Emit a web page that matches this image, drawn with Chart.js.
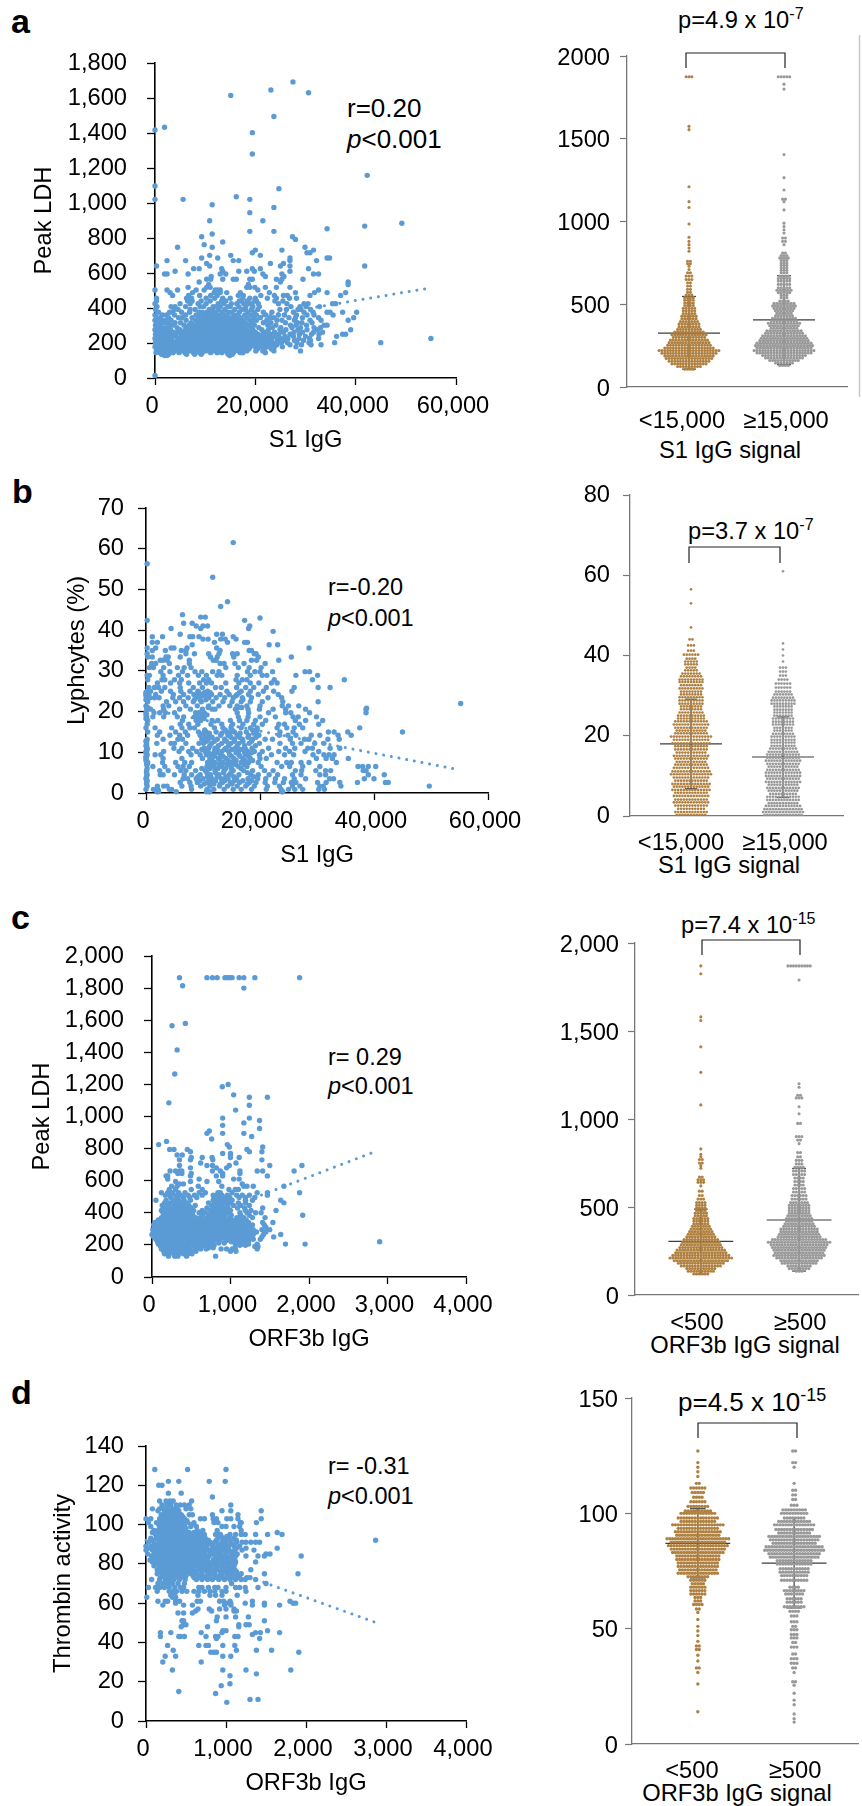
<!DOCTYPE html>
<html>
<head>
<title>Antibody signal vs clinical markers</title>
<script src="https://cdnjs.cloudflare.com/ajax/libs/Chart.js/4.4.1/chart.umd.min.js"></script>
<style>
    html, body { margin: 0; padding: 0; background: #fff; }
    body { position: relative; width: 862px; height: 1806px; overflow: hidden; }
    canvas { position: absolute; }
    svg { position: absolute; left: 0; top: 0; pointer-events: none; }
    svg text { font-family: "Liberation Sans", Arial, sans-serif; fill: #000; }
</style>
</head>
<body>
<svg width="862" height="1806" id="notes">
    <text x="11" y="33" font-size="34" font-weight="bold">a</text>
    <text x="12" y="503" font-size="34" font-weight="bold">b</text>
    <text x="11" y="929" font-size="34" font-weight="bold">c</text>
    <text x="11" y="1404" font-size="34" font-weight="bold">d</text>

    <text x="347" y="117" font-size="26">r=0.20</text>
    <text x="347" y="148" font-size="26"><tspan font-style="italic">p</tspan>&lt;0.001</text>
    <text x="328" y="595" font-size="23.5">r=-0.20</text>
    <text x="328" y="626" font-size="23.5"><tspan font-style="italic">p</tspan>&lt;0.001</text>
    <text x="328" y="1065" font-size="23.5">r= 0.29</text>
    <text x="328" y="1094" font-size="23.5"><tspan font-style="italic">p</tspan>&lt;0.001</text>
    <text x="328" y="1474" font-size="23.5">r= -0.31</text>
    <text x="328" y="1504" font-size="23.5"><tspan font-style="italic">p</tspan>&lt;0.001</text>

    <text x="678" y="28" font-size="23.7">p=4.9 x 10<tspan dy="-9" font-size="16">-7</tspan></text>
    <text x="688" y="539" font-size="23.7">p=3.7 x 10<tspan dy="-9" font-size="16">-7</tspan></text>
    <text x="681" y="933" font-size="23.7">p=7.4 x 10<tspan dy="-9" font-size="16">-15</tspan></text>
    <text x="678" y="1411" font-size="26">p=4.5 x 10<tspan dy="-10" font-size="18">-15</tspan></text>

    <text x="730" y="458" font-size="23.7" text-anchor="middle">S1 IgG signal</text>
    <text x="729" y="873" font-size="23.7" text-anchor="middle">S1 IgG signal</text>
    <text x="745" y="1353" font-size="23.7" text-anchor="middle">ORF3b IgG signal</text>
    <text x="737" y="1801" font-size="23.7" text-anchor="middle">ORF3b IgG signal</text>

    <g fill="none" stroke="#222" stroke-width="1.2">
        <path d="M686 68V53H785V68"/>
        <path d="M689 563V547H780V563"/>
        <path d="M702 955V940H800V955"/>
        <path d="M698 1438V1423H797V1438"/>
    </g>
    <path d="M859.5 35V397" stroke="#c8c8c8" stroke-width="1.5"/>
</svg>

<script>
// scatter values, one row per y level: [y, [x, x, ...]]
const s1LdhRows = [
    [1692,[27500]],[1646,[23100]],[1630,[30600]],[1615,[15100]],[1494,[23700]],[1433,[1900]],[1417,[0]],[1402,[19400]],
    [1280,[19400]],[1158,[42300]],[1097,[0]],[1082,[24700]],[1036,[16200]],[1021,[0,5600,18900]],[990,[11400]],[975,[23700]],
    [945,[18900]],[899,[10900,21500]],[884,[49200]],[868,[41800]],[853,[34300]],[838,[18900,23700]],[823,[11400]],
    [807,[9300,27400]],[792,[28000]],[777,[13500]],[762,[9800]],[747,[4500,11400,29900]],[731,[20000,25300,31600]],
    [716,[19400,30900,30300]],[701,[10900,15100,21000]],[686,[9300,12500,26900,34300,34800]],[671,[2400,6100,15600,16700,26900,32200]],
    [655,[10300,23000,25600]],[640,[300,10900,26900,41800,25000]],[625,[7700,8800,19400,21000,30600,13300]],
    [610,[4000,13500,16700,18300,19800,26900]],[594,[1900,2400,6600,13000,14100,21500,25300,31600,32600]],
    [580,[22000,11200,25700]],[564,[10300,13500,15600,16200,18900,19400,24200,25300,29500,11100]],[549,[8800,38500,25000]],
    [534,[38500,10700,18600]],[518,[6600,10300,18300,18900,19900,22000,24200,26900,11000]],
    [503,[0,2400,4500,8200,9800,12000,12500,20500,32600,13000]],
    [488,[3000,7500,11800,13000,14300,17000,22800,28000,34300,38000,31800]],
    [472,[3500,6700,8900,11100,12400,16600,17600,21100,23800,25600,26400,30900,37000]],
    [456,[300,6300,7300,10200,11900,13500,15000,17500,18900,20000,22400,24200,26800,28200]],
    [440,[300,6500,7400,9200,11000,13300,14100,16800,17200,18400,19900,20200,23900,25500]],
    [425,[0,5000,7000,8600,10200,12600,13700,15200,16300,17700,18700,19300,20600,24600,26300,29700,30500,36000,35400]],
    [408,[400,3200,4000,6100,9000,9700,11600,12200,13000,14500,15000,16700,18100,19500,20800,27100,28900,30100,32800]],
    [392,[100,3800,4600,7000,8000,10800,11500,12700,13900,15900,17300,18000,19200,20500,24900,26200,28500,29100,31000]],
    [376,[700,2900,3500,5300,6900,8800,9400,10300,11200,12100,13400,14600,15300,16800,18500,19800,21600,23300,27600,29700,31500,34300,34900,37400,40200]],
    [360,[0,1500,2300,3900,6100,8200,9100,10100,11000,11900,12800,13900,14400,15800,16500,17900,19100,20200,22100,24600,25800,28200,30300,31700,35500]],
    [345,[300,1000,2700,4700,5400,7400,8700,9800,10600,11400,12300,13200,14200,15200,16000,17100,18300,19600,21000,22900,23700,26700,28000,29400,32600,39600]],
    [330,[0,1200,2000,3200,6200,8100,9000,9600,10400,11100,11900,12700,13500,14300,15100,15800,16700,17500,18900,20200,22300,24300,25300,27800,30900,33100,38500]],
    [316,[500,1700,2500,4000,5100,7200,8500,9300,10000,10800,11600,12400,13100,13900,14700,15500,16300,17100,18000,19400,21600,23100,26000,28400,29300,31300]],
    [302,[100,900,2900,3600,5800,6800,7700,8900,9700,10400,11200,11900,12700,13500,14200,15000,15700,16600,17400,18600,19800,22500,24100,27000,28100,30200,33700,34300]],
    [288,[300,1400,2100,4400,6300,7300,8300,9200,10000,10700,11500,12300,13000,13800,14500,15300,16100,16900,17800,19100,20700,23400,25100,27300,29000,31700,33000]],
    [276,[0,800,2600,3100,5000,6100,6900,8000,8900,9600,10300,11100,11800,12600,13300,14100,14900,15600,16400,17200,18200,19500,21300,22600,24900,26100,28500,30300,32400,39000]],
    [262,[400,1300,1900,3700,4500,5500,7500,8600,9300,10100,10900,11600,12400,13200,13900,14700,15400,16200,17000,17800,18800,20000,22100,23800,25600,27700,29400,31600,33400]],
    [250,[100,1000,2300,3000,5200,6400,7200,8100,8900,9700,10500,11300,12000,12800,13500,14300,15100,15900,16600,17400,18400,19300,20500,21500,23000,24700,26900,28800,31200,32700,37400,38000]],
    [238,[600,1500,2700,3500,4200,5800,6700,7700,8500,9400,10100,10900,11700,12500,13200,14000,14800,15500,16300,17100,18000,18900,19900,21000,22400,24000,25900,27600,30000,36200]],
    [226,[0,1100,2000,3100,4800,5300,6300,7300,8200,9000,9800,10600,11400,12100,12900,13700,14400,15200,16000,16800,17700,18500,19500,20400,21700,23300,25000,26500,28700,30800,32600,55000]],
    [214,[400,1600,2400,3400,4400,5600,6900,7900,8700,9500,10300,11000,11800,12600,13400,14100,14900,15700,16500,17300,18200,19100,20000,21200,22600,24400,25700,27800,29600,31000]],
    [202,[100,800,1800,2900,3800,5000,6000,7500,8400,9200,9900,10700,11500,12200,13000,13800,14600,15400,16100,17000,17900,18700,19700,20700,22100,23500,25200,26400,28300,30700,35800,45000]],
    [190,[500,1300,2200,3300,4300,5500,6500,7100,8000,8800,9600,10400,11200,11900,12700,13500,14300,15000,15800,16700,17500,18400,19300,20300,21600,23000,24300,26900,29200,31100,33100]],
    [178,[0,900,1700,2700,3700,4600,5900,6800,7700,8500,9300,10100,10800,11600,12400,13100,13900,14700,15500,16400,17200,18100,19000,20000,21100,22400,23800,25400,28100]],
    [166,[300,1200,2000,3000,4000,5000,5700,6500,7400,8200,9000,9700,10500,11300,12100,12900,13700,14400,15200,16000,16900,17800,18700,20400,21800,23200]],
    [155,[700,1500,2400,3300,4300,5300,6200,7100,8700,9500,10200,11000,11800,12600,13400,14200,15000,15800,16600,17400,18300,20100,21500,23700,29000]],
    [145,[200,1100,1800,2600,3600,4800,6000,7700,8900,9400,11100,12400,13300,14400,15100,15600,17000,17500,22000]],
    [136,[1300,1700,2200,2700,6300,7900,9200,14600,15000,15400]],
    [128,[1900,2400,14900]],
    [15,[0]]
];
const s1LymphRows = [
    [61.5,[15300]],[56.3,[200]],[53,[11700]],[47,[14300]],[45.8,[13100]],[43.8,[6400]],[43.2,[9600,10400]],[43,[20000]],
    [42.4,[200,17300]],[41.7,[6600,8100]],[41,[8800,10000,10800,18200]],[40.4,[4400,9600,18000]],[39.7,[22300]],
    [39,[6000,12400,13400]],[38.4,[1100,2900,7700,8200,9300,15300]],[37.8,[10000,10900,13100,13900,15800]],
    [37,[1100,2000,12000,14300,17300,17800]],[36.4,[8100,21600,23100]],[35.6,[200,1700,4400,4900,7200,12400,28600]],
    [35,[1100,3400,6200,7000,13000,18100,18500]],[34.2,[200,7000,8500,11000,12800,15200,16000,19000,19300]],
    [33.4,[300,1100,3500,3900,6000,11300,12500,15400,19700,25500]],[32.6,[2500,3000,3700,7600,11800,12300,18500,19400,23300]],
    [31.8,[1000,1700,4100,7600,13000,13700,15600,17200,20900]],[30.8,[600,1300,3100,5500,6700,7900,14000,16200,18100,20200]],
    [29.8,[2600,4200,6400,8600,9800,11700,12800,17800,19100,20000,22200,27900,28700]],
    [28.9,[200,600,3000,5700,7300,9200,10600,12500,13300,16000,18300,20400,21200,26300,30100]],
    [27.8,[300,2800,3300,5000,6200,10100,11000,15800,16900,17700,22500,29200,34800]],
    [27,[2000,4300,5900,7500,9400,10600,11500,14000,16300,18300,19800,22000,23000]],
    [25.9,[500,1500,2200,3300,6000,8300,9900,12200,13200,15900,17500,18900,21100,26000,30200,32300]],
    [25,[200,800,2700,4300,6100,7700,9100,10800,14200,16700,18300,20600,22400,25600]],
    [24.2,[0,500,1700,4800,6600,8400,10000,11500,13000,14600,16000,18000,19700,23200]],
    [23.4,[100,700,1500,2300,4700,5900,7400,9400,11000,12300,13800,15300,16900,18500,21400,23800]],
    [22.4,[300,3600,5200,6600,8300,9700,11700,13500,15100,16700,18300,20400,24000,30200]],
    [21.4,[0,3000,4000,7000,9000,11000,12800,14700,16000,17700,20000,23900,25000,26800]],
    [20.6,[200,800,3100,5900,7800,9900,11600,12100,15700,17900,19900,22300,24500,28000,38600]],
    [19.7,[0,1400,2400,3400,5000,8700,9300,10200,16000,18000,21500,24500,25400,28700,38600]],
    [18.7,[100,1200,3100,5500,6600,8500,10000,16200,17900,20000,22700,25800,26700,29900]],
    [17.8,[300,6400,8800,9600,11600,12600,14800,16400,17700,19200,21000,26200,28000,31000]],
    [16.9,[200,6000,7500,9100,11400,13300,15200,17000,18900,20400,23300,24300,26900,30300]],
    [16,[0,1600,4500,6300,7700,8500,12000,13500,14900,16700,18300,19500,23000,24700,26000,27500,37500]],
    [15,[300,2400,5200,6900,9200,10500,12300,14200,15500,17600,19300,23500,25800,32000,33000,35400,45000]],
    [14.2,[2000,4200,5900,7300,9500,11100,13100,14400,16000,18000,19800,23400,24900,26300,29000,30500,33700,36000]],
    [13.2,[200,3000,5600,6400,9800,10900,12500,13800,15500,16900,18700,20900,22200,25300,27800,28600,31900,33900]],
    [12.2,[100,1900,4400,5000,7000,9300,10100,11500,13300,14900,16300,18100,19900,23500,25700,27200,29600,31200]],
    [11,[200,4900,6300,8200,10200,11000,12100,14000,15700,17300,18600,21500,24500,26100,28400,29200,32300,34000]],
    [10.2,[0,3100,5800,7500,8900,10400,12000,13300,14500,16200,17800,19000,20400,23300,25200,27900,30300]],
    [9.4,[200,1600,2600,7900,9500,10600,11500,13100,14700,16300,17500,19900,22000,24300,25900,29300,31200,32100,33000]],
    [8.5,[0,3000,6300,9900,11200,12700,14000,15400,17000,18300,20000,21100,29900,31600,32700,35500]],
    [7.5,[300,2900,5200,6800,8000,10800,12100,13500,15000,16700,18000,19700,23000,24700,25500,27200,28600,33400]],
    [6.5,[1200,3300,5600,6500,7600,10700,11900,13300,14900,16200,17700,20200,23800,25200,27500,30500,37200,38000,39000,40300]],
    [5.5,[100,2400,3900,6100,7000,8700,10400,12100,13700,15300,17100,18700,20800,22300,26200,27300,29800,31500,32400,38100,38600]],
    [4.5,[200,2500,3000,5000,6700,8000,9500,11300,12800,14600,16300,18400,19700,21600,23100,25700,27200,30500,31500,39000,41800]],
    [3.5,[0,6500,7300,8800,10000,11600,13200,14400,15900,17900,19600,21000,22700,24300,26000,28000,32200,32900,38300,40000]],
    [2.6,[100,6000,7700,9000,10700,11500,13400,14800,16400,18100,19300,20900,22600,24100,25500,26300,30100,31600,34000,37100,42000,42500]],
    [1.7,[200,2000,3100,3700,6300,7900,9600,11200,12900,14300,16000,17500,19000,21300,23400,25700,27000,30500,31100,34200,49700]],
    [0.9,[0,1300,2100,4100,4500,8000,10700,11900,13700,15300,16700,18500,21100,23700,25000,26100,27500,30300,31300]],
    [0.3,[1900,2200,5300,10600,11000,11200,23800,24000]],
    [22,[55200]],[20.8,[38700]],
    [24.7,[0,100,300,9300,10300,11200,16400]],[23.9,[0,200,8900,9900,10800,15800]],[22.9,[0,100,8500,9500,10500,17000]],
    [21,[100,300,10900,16200,16800]],[19.2,[0,100,8900,9800,10700]],[18.3,[0,100,9200,10200]],
    [15.5,[10300,13900,15100,18700,19500]],[14.7,[10100,11100,13300,14700,16500,18900]],[13.7,[10400,11600,14900,16400,17900,19300]],
    [12.7,[0,100,10600,12000,14100,15500,17000,18500]],[11.6,[0,100,11200,12700,14500,16000,17300,19200]],[10.7,[100,200,9800,12500,13800,15100,16600,17500]],
    [9.9,[0,100,11000,12400,15800,17300,18500]],[9,[0,100,12000,13500,15000,16500,18000]],[8,[0,100,11600,13000,14400,15800,17400,18700]],
    [7,[100,200,11300,12800,14200,15700,17200]],[6,[200,9800,11200,12600,14000,15000,16700]],[5,[100,10700,12200,13600,14900,17800]],
    [4,[100,9100,10800,12500,14000,15400,18900]],[3,[200,9400,11000,12200,13800,15500,17000,18500]],[2.2,[100,10200,11900,13000,15100,17800]]
];
const orfLdhRows = [
    [1865,[350,700,770,830,930,960,990,1020,1110,1170,1310,1880]],[1815,[390]],[1800,[1170]],[1580,[425]],[1565,[255]],[1415,[320]],
    [1265,[290]],[1200,[970]],[1185,[895]],[1135,[1040]],[1120,[1240,1470]],[1085,[215]],[1070,[1240]],[1040,[1065]],[990,[900,1240]],
    [975,[1370]],[960,[1170]],[945,[900]],[925,[1370]],[910,[730]],[895,[700,1170,900]],[875,[1270]],[860,[760]],[845,[185]],[825,[85,960]],
    [810,[985,1410]],[795,[225,280,450,1210]],[780,[490,1240,1400]],[770,[900,1000]],[760,[320,385,1000]],[745,[500,640,765,1110,1000]],
    [730,[350,490,775,1400]],[710,[620,1070]],[695,[700,770,985,1500,1910,350]],[680,[490,820,950]],[660,[230,300,350,380,870,1120,1340,1410,1810,770]],
    [645,[330,380,500,1120,900]],[630,[180,200,490,820,900,1470]],[610,[600,1040,1110,200]],[595,[300,490,700,850]],[580,[350,400,1150]],
    [565,[250,320,590,890,1170,1210,1290,1680]],[545,[220,300,500,640,980,1060,1100]],[525,[120,200,260,340,420,600,680,840,870,1020,1340,1470,1880]],
    [510,[170,220,300,360,460,540,640,780,830,890,960,1080,1150,1240,1470]],[495,[240,320,400,480,570,790,860,920,990,1110,1190,1310]],
    [478,[50,180,270,340,410,490,780,830,900,960,1020,1190,1280,1640]],[462,[160,230,300,370,440,720,800,860,940,1000,1100,1190,1680]],
    [446,[130,210,280,340,400,470,550,760,830,890,960,1040,1130,1240]],[430,[170,230,300,360,430,500,700,790,850,910,970,1090,1180,1410]],
    [415,[120,210,270,330,390,450,530,640,740,810,880,940,1000,1190,1260,1580]],
    [400,[140,180,240,300,360,420,480,600,680,770,830,900,960,1120,1210,1320,1390]],
    [385,[150,210,270,330,390,450,520,640,730,800,860,930,1010,1130,1240,1920]],
    [370,[120,180,240,300,360,420,480,560,620,700,770,840,910,990,1080,1170,1280,1440]],
    [355,[80,150,210,270,330,390,450,510,590,660,740,820,880,950,1020,1120,1200]],
    [340,[40,120,180,240,300,360,420,480,540,620,690,770,850,920,1000,1090,1150,1230,1410,1540]],
    [325,[20,90,150,210,270,330,390,450,510,570,650,720,800,880,950,1050,1130,1200,1280,1430]],
    [310,[40,110,170,230,290,350,410,470,530,600,670,750,830,910,1000,1090,1170,1250,1450]],
    [295,[10,70,130,190,250,310,370,430,490,550,620,690,780,860,1030,1120,1210,1290,1400,1500]],
    [280,[30,90,150,210,270,330,390,450,510,570,640,720,800,890,1060,1150,1240,1330,1450]],
    [265,[0,60,120,180,240,300,360,420,480,540,600,670,750,830,1040,1110,1200,1290,1420,1640]],
    [250,[30,90,150,210,270,330,390,450,510,570,640,710,780,860,1000,1080,1170,1260,1400,1550]],
    [235,[50,110,170,230,290,350,410,470,530,590,660,730,800,1040,1110,1200,1290,1380]],
    [220,[70,130,190,250,310,370,430,490,550,620,690,760,1010,1090,1170,1230,2900]],
    [205,[80,140,200,260,320,380,440,500,560,630,700,770,1060,1160,1230,1340,1700,1950]],
    [190,[110,170,230,290,350,410,470,540,610,680,1310,1350]],
    [175,[120,180,240,300,360,420,480,550,620,690,880,950,1020,1340]],
    [160,[150,200,260,320,380,440,500,560,1000,1070]],
    [145,[160,220,280,340,400,460,510]],
    [130,[210,290,330,440,810]],
    [350,[540,620,700,800,930,1060]],[332,[580,650,730,810,960,1040,1120]],[318,[610,680,760,840,900,980,1060]],
    [302,[570,640,710,770,840,960,1070,1150]],[288,[600,660,740,820,950,1010,1100,1190]],[272,[620,690,770,850,940,1000,1090,1180]],
    [258,[580,660,740,810,890,960,1050,1130,1230]],[242,[620,700,770,840,910,980,1070,1150,1240]],[228,[640,710,790,860,950,1030,1130,1210]],
    [212,[590,660,730,850,920,1110,1200]],[198,[650,720,790,1120,1190]],[182,[580,720,780,1060]]
];
const orfThrombinRows = [
    [128,[110,520,1000]],[122,[280,410,790,990]],[120,[200,160]],[116,[280,440]],[114,[830]],[112,[170,250,300,340,570]],
    [110,[200,260,310,380,430,480,540,1060]],[108,[80,170,220,280,340,390,500,560]],[107,[150,230,290,370,410,950,1060,1440]],
    [105,[190,250,310,360,440,540,580,830,1150]],[103,[0,60,170,230,280,340,400,480,680,730,840,880,1010,1060,1150,1440]],
    [101,[30,130,200,260,320,380,450,520,600,850,900,1180,1190,1380]],[99,[60,170,220,280,340,400,460,560,630,950,1100,1000,1170]],
    [97,[100,150,200,250,310,370,430,490,640,710,890,1190]],[96,[80,180,240,300,360,420,480,540,600,670,1640]],
    [95,[120,190,250,310,370,430,490,540,590,650,730,870,930,1050,1120,1190,1240,1370,1520,1700]],
    [93,[60,130,200,260,320,380,440,500,560,620,680,740,900,960,1040,1100]],[92,[90,170,230,290,350,410,470,530,590,650,710,780,880,1000,1130,2870]],
    [91,[30,100,170,240,300,360,420,480,540,600,660,720,800,860,950,1060,1130,1200,1250,1310,1370,1420]],
    [89,[0,70,140,200,260,320,380,440,500,560,620,690,760,840,900,970,1030,1100,1170]],
    [88,[40,120,180,250,310,370,430,490,550,610,670,740,830,890,950,1020,1130,1250,1640]],
    [87,[0,80,150,220,280,340,400,460,520,580,640,710,790,850,910,970,1040,1110,1200,1350]],
    [85,[20,100,170,240,300,360,420,480,540,600,670,740,810,880,940,1000,1080,1140,1500,1550]],
    [84,[70,150,220,280,340,400,460,520,580,650,720,790,860,930,990,1060,1120,1250,1400,1480,1940]],
    [82,[50,120,190,250,310,370,430,490,550,610,680,750,840,910,980,1050,1110]],
    [81,[80,150,210,270,330,390,450,510,570,640,710,780,860,930,1000,1070,1120,1370]],
    [79,[100,170,230,290,350,410,470,530,600,670,740,810,880,960,1030,1100]],
    [77,[140,210,270,330,390,450,520,590,670,740,810,890,970,1050,1110,1310]],
    [75,[140,200,260,320,380,440,500,560,630,700,790,860,950,1020,1100,1190,1480,1900]],
    [73,[180,240,300,360,420,480,600,660,720,820,880,950,1030,1090,1170,1260,1300]],
    [72,[70,170,240,290,350,420,490,630,700,770,830,910,980,1050,1120,1190,1240,1370]],
    [70,[150,210,270,330,400,480,1070,1500]],[68,[30,120,170,230,290,360,430,470,660,700,780,860,900,1000,1120,1170,1400,1240]],
    [66,[140,290,340,380,450,510,600,660,730,800,860,950,1000,1250]],[64,[310,360,650,800,870,950,1140]],[63,[10,330,370]],
    [61,[150,240,270,370,420,640,680,920,970,1050,1330,1800]],[60,[370,1000,1060,1240,1480,1840,1870]],[59,[210,470,580,1060,980,1330,1480,1670]],
    [57,[650,790,920,1100,1000]],[56,[620,820,1100,1130]],[55,[400,470,580]],[53,[890,1000,1280,1120]],[51,[450,470,880,1480]],
    [49,[470,500,1160,1250,1290]],[48,[440,770,1160]],[46,[960,1520,1000]],[45,[180,310,690,950,1370,1430,1670]],[43,[180,410,430,480,750,870,900,1110,1150]],
    [44,[1330]],[42,[1420,880]],[38.5,[270,660,750,780,960,1110]],[36,[340,1130,1380,1570]],[35,[810,850,880,1910]],[33,[240,370,960,1060]],
    [30,[210,690]],[26,[330,960,1250,1810]],[24,[1380]],[23,[1050]],[19,[1050]],[18,[940]],[15,[410]],[14,[870]],[11,[1300,1400]],[9.5,[1010]],
    [106,[230,280,330,390]],[104,[210,260,300,350,410,460]],[102,[190,240,290,340,400,440,510]],[100,[160,220,270,310,360,420,480,570]],
    [98,[190,240,290,330,380,440,500]],[94,[170,220,280,330,390,450,510,570,640,710,940,1010]],[90,[130,190,240,290,340,400,450,510,570,630,690,750,820,910,1000,1090]],
    [86,[110,190,250,300,350,410,460,530,590,650,730,800,870,920,1010,1070]],[83,[100,170,230,280,330,380,440,500,560,630,700,770,890,950,1020,1090]],
    [80,[130,190,250,300,360,420,480,540,610,690,760,830,900,970,1040,1110]],[78,[170,220,280,330,380,440,500,570,650,720,790,870,950,1020,1080]],
    [76,[190,240,290,340,400,470,540,620,700,770,850,930,1000,1070,1130]],[74,[210,260,310,370,430,500,590,670,760,840,920,1010,1080,1150]]
];

// trend line ends, [x, y]
const s1LdhTrend = [[0,250],[55000,515]];
const s1LymphTrend = [[0,20.7],[53800,6]];
const orfLdhTrend = [[0,250],[2814,776]];
const orfThrombinTrend = [[0,92],[2883,50]];

// swarm values: levels and the number of dots at each level
const s1LdhLowLevels = [108,124,140,156,172,188,204,220,236,252,268,284,300,316,332,348,364,380,396,412,428,444,460,476,492,508,524,540,556,572,590,610,630,650,670,690,710,730,745,760,820,840,860,880,905,985,1085,1120,1210,1555,1575,1875];
const s1LdhLowCounts = [4,9,13,15,17,18,20,22,18,16,15,14,12,13,11,9,8,8,7,6,6,5,5,5,4,4,4,4,3,2,2,2,2,3,3,2,1,1,2,2,1,1,1,1,1,1,1,1,1,1,1,3];
const s1LdhHighLevels = [130,145,160,175,190,205,220,235,250,265,280,295,310,325,340,355,370,385,400,415,430,445,460,475,490,505,520,540,555,570,585,600,620,640,655,670,690,705,720,735,750,765,780,795,810,860,880,900,930,950,970,990,1070,1120,1135,1190,1265,1405,1800,1830,1875];
const s1LdhHighCounts = [4,7,11,14,16,20,22,20,21,20,18,17,16,14,13,10,11,12,10,9,7,6,7,8,9,8,4,3,3,5,6,5,5,5,5,4,3,3,3,3,3,3,4,3,2,1,2,2,1,1,1,1,1,1,2,1,1,1,1,1,5];

const s1LymphLowLevels = [0.3,1,1.8,2.6,3.4,4.1,5,5.8,6.5,7.3,8,8.8,9.6,10.4,11.1,12,12.8,13.5,14.3,15,15.8,16.6,17.4,18.1,19,19.8,20.6,21.3,22,22.8,23.6,24.3,25,25.8,26.6,27.3,28,28.8,29.6,30.3,31,31.8,32.6,33.4,34,34.8,35.5,36.3,37,37.8,38.5,39.2,40.2,41.2,42.5,44,47,53,56.5];
const s1LymphLowCounts = [11,12,10,12,13,12,13,12,14,13,14,12,13,15,14,13,12,11,12,13,11,12,12,14,13,15,12,11,12,13,12,10,10,9,8,8,9,9,9,8,8,9,8,9,9,8,7,5,4,5,5,4,6,3,3,2,1,1,1];
const s1LymphHighLevels = [0.3,1,1.7,2.5,3.2,4,4.8,5.5,6.3,7,7.8,8.5,9.3,10,10.8,11.5,12.3,13,13.8,14.5,15.3,16,16.8,17.5,18.3,19,19.8,20.5,21.3,22,22.8,23.5,24.3,25,25.8,26.5,27.3,28,28.8,29.5,30.3,31,32,33,34,35,36,37,38.5,40,41.5,43,61];
const s1LymphHighCounts = [14,15,14,13,11,12,12,10,11,12,11,13,12,13,13,12,11,12,13,12,12,11,10,9,9,9,9,8,7,7,8,8,8,7,7,7,7,9,9,8,7,6,6,6,4,3,3,3,1,1,1,1,1];

const orfLdhLowLevels = [120,135,150,165,180,195,210,225,240,255,270,285,300,315,330,345,360,375,390,405,420,435,450,465,480,495,510,525,545,565,590,620,640,655,670,720,735,750,770,785,800,830,1080,1265,1410,1560,1580,1825,1870];
const orfLdhLowCounts = [6,10,11,15,17,20,23,21,19,18,16,15,14,13,11,10,9,8,7,6,6,6,5,5,4,4,4,4,3,2,2,1,3,3,2,1,1,2,2,1,1,1,1,1,1,1,1,1,1];
const orfLdhHighLevels = [135,150,165,180,195,210,225,240,255,270,285,300,315,330,345,360,375,390,405,420,435,450,465,480,495,510,525,545,565,585,605,625,645,665,685,705,725,745,765,785,810,860,880,900,975,1030,1070,1120,1135,1180,1200,1790,1870];
const orfLdhHighCounts = [3,8,9,13,14,17,19,18,19,20,21,23,20,16,15,14,14,12,11,10,10,9,8,8,8,8,7,6,6,5,5,4,4,4,5,5,4,3,3,2,2,1,2,3,2,1,1,3,2,1,1,1,9];

const orfThrombinLowLevels = [127,122,120,118,116,113,111,109,107,105,103,101,100,98,96.5,95,93.5,92,90.5,89,87.5,86,84.5,83,81.5,80,78.5,77,75.5,74,72.5,71,69.5,68,66.5,65,63.5,62,60.5,58.5,57,54,51,49,47,44.5,42.5,41,38.5,36,33,31,26,14];
const orfThrombinLowCounts = [1,1,1,1,1,2,6,5,4,6,8,10,13,15,13,19,15,17,16,23,20,22,20,19,16,16,15,15,14,15,8,6,5,6,6,6,3,3,4,2,1,1,1,1,1,1,2,2,1,1,2,1,1,1];
const orfThrombinHighLevels = [127,122,120,113,110,108,106,103.5,101.5,100,98,96.5,95,93,91.5,90,88.5,87,85.5,84,82.5,81,79.5,78,76,74.5,73,71,68,66.5,65,63,61.5,59.5,57.5,55.5,53,51,49.5,47.5,46,44,42,39,37,35,33,31,27,25.5,22,19,17,13,11,9.5];
const orfThrombinHighCounts = [2,2,1,1,2,2,2,3,9,10,8,12,15,14,12,19,18,16,21,22,19,18,13,13,11,11,10,10,4,8,7,6,6,8,4,3,3,2,3,3,3,2,3,2,3,3,2,1,2,1,1,1,1,1,1,1];

// mean, sd top, sd bottom per group
const s1LdhStats = [[326,547,108],[406,672,135]];
const s1LymphStats = [[18,29.1,6.8],[14.7,24.7,4.6]];
const orfLdhStats = [[305,488,119],[426,719,136]];
const orfThrombinStats = [[87,102,72],[78.4,98,59]];

const BLUE = '#5b9bd5', BROWN = '#b08040', GREY = '#999999';
const FONT = { family: '"Liberation Sans", Arial, sans-serif', size: 23.7 };
Chart.defaults.font.family = FONT.family;
Chart.defaults.color = '#000';

const comma = v => Number(v).toLocaleString('en-US');

function addCanvas(left, top, width, height) {
    const c = document.createElement('canvas');
    c.width = width;
    c.height = height;
    c.style.left = left + 'px';
    c.style.top = top + 'px';
    c.style.width = width + 'px';
    c.style.height = height + 'px';
    document.body.appendChild(c);
    return c;
}

function rowsToPoints(rows) {
    return rows.flatMap(([y, xs]) => xs.map(x => ({ x, y })));
}

function scatterChart(p) {
    // the y scale asks for half a label plus the tick padding above the plot
    const pad = 40, under = 77;
    const canvas = addCanvas(0, p.top - pad, p.right + 60, p.bottom - p.top + pad + under);
    new Chart(canvas, {
        type: 'scatter',
        data: {
            datasets: [
                { data: rowsToPoints(p.rows), backgroundColor: BLUE, borderWidth: 0, pointRadius: 2.7, clip: false },
                {
                    data: p.trend.map(([x, y]) => ({ x, y })), showLine: true, pointRadius: 0, clip: false,
                    borderColor: BLUE, borderWidth: 3, borderCapStyle: 'round', borderDash: [0.01, 7.8]
                }
            ]
        },
        options: {
            responsive: false, animation: false, events: [],
            layout: { padding: { top: pad, right: 60 } },
            plugins: { legend: { display: false }, tooltip: { enabled: false } },
            scales: {
                x: {
                    type: 'linear', min: p.xTicks[0], max: p.xTicks[p.xTicks.length - 1],
                    afterBuildTicks: s => { s.ticks = p.xTicks.map(value => ({ value })); },
                    afterFit: s => { s.height = under; },
                    grid: { drawOnChartArea: false, tickLength: 7, tickColor: '#000', tickWidth: 1.3 },
                    border: { color: '#000', width: 1.6 },
                    ticks: { font: FONT, color: '#000', padding: 7, maxRotation: 0, autoSkip: false, labelOffset: -3, callback: comma },
                    title: { display: true, text: p.xTitle, font: FONT, color: '#000', padding: 0 }
                },
                y: {
                    type: 'linear', min: p.yTicks[0], max: p.yTicks[p.yTicks.length - 1],
                    afterBuildTicks: s => { s.ticks = p.yTicks.map(value => ({ value })); },
                    afterFit: s => { s.width = p.left; },
                    grid: { drawOnChartArea: false, tickLength: 8, tickColor: '#000', tickWidth: 1.3 },
                    border: { color: '#000', width: 1.6 },
                    ticks: { font: FONT, color: '#000', padding: p.yGap, autoSkip: false, callback: comma },
                    title: { display: true, text: p.yTitle, font: FONT, color: '#000', padding: { top: p.titleX - 14, bottom: 0 } }
                }
            }
        }
    });
}

function swarmPoints(center, levels, counts) {
    const gap = 2.85, pts = [];
    levels.forEach((y, i) => {
        for (let k = 0; k < counts[i]; k++) {
            pts.push({ x: center + (k - (counts[i] - 1) / 2) * gap, y });
        }
    });
    return pts;
}

function segment(x1, y1, x2, y2) {
    return {
        data: [{ x: x1, y: y1 }, { x: x2, y: y2 }], showLine: true, pointRadius: 0, clip: false,
        borderColor: '#3d3d3d', borderWidth: 1.2
    };
}

function swarmChart(p) {
    const pad = 40, under = 50, yW = 84;
    const w = p.right - p.left;
    const rightPad = Math.min(15, 862 - p.right);
    const canvas = addCanvas(p.left - yW, p.top - pad, yW + w + rightPad, p.bottom - p.top + pad + under);
    const c0 = p.centers[0] - p.left, c1 = p.centers[1] - p.left;
    const bars = [];
    [c0, c1].forEach((c, i) => {
        const [mean, hi, lo] = p.stats[i];
        bars.push(segment(c - p.meanHalf, mean, c + p.meanHalf, mean));
        bars.push(segment(c, hi, c, lo));
        bars.push(segment(c - p.capHalf, hi, c + p.capHalf, hi));
        bars.push(segment(c - p.capHalf, lo, c + p.capHalf, lo));
    });
    new Chart(canvas, {
        type: 'scatter',
        data: {
            datasets: [
                { data: swarmPoints(c0, p.lowLevels, p.lowCounts), backgroundColor: BROWN, borderWidth: 0, pointRadius: p.dot, clip: false },
                { data: swarmPoints(c1, p.highLevels, p.highCounts), backgroundColor: GREY, borderWidth: 0, pointRadius: p.dot, clip: false },
                ...bars
            ]
        },
        options: {
            responsive: false, animation: false, events: [],
            layout: { padding: { top: pad, right: rightPad } },
            plugins: { legend: { display: false }, tooltip: { enabled: false } },
            scales: {
                x: {
                    type: 'linear', min: 0, max: w,
                    afterBuildTicks: s => { s.ticks = p.labelAt.map(v => ({ value: v - p.left })); },
                    afterFit: s => { s.height = under; },
                    grid: { display: false },
                    border: { color: '#777', width: 1.3 },
                    ticks: {
                        font: FONT, color: '#000', padding: p.xGap, maxRotation: 0, autoSkip: false,
                        callback: (v, i) => p.groups[i]
                    }
                },
                y: {
                    type: 'linear', min: 0, max: p.yTicks[p.yTicks.length - 1],
                    afterBuildTicks: s => { s.ticks = p.yTicks.map(value => ({ value })); },
                    afterFit: s => { s.width = yW; },
                    grid: { drawOnChartArea: false, tickLength: 7, tickColor: '#777', tickWidth: 1.2 },
                    border: { color: '#777', width: 1.3 },
                    ticks: {
                        font: FONT, color: '#000', padding: p.yGap, autoSkip: false, labelOffset: p.labelOffset,
                        callback: p.format
                    }
                }
            }
        }
    });
}

scatterChart({ left: 155, right: 456, top: 63, bottom: 378, rows: s1LdhRows, trend: s1LdhTrend, xTicks: [0, 20000, 40000, 60000], yTicks: [0, 200, 400, 600, 800, 1000, 1200, 1400, 1600, 1800], xTitle: 'S1 IgG', yTitle: 'Peak LDH', titleX: 44, yGap: 20 });
scatterChart({ left: 146, right: 488, top: 508, bottom: 793, rows: s1LymphRows, trend: s1LymphTrend, xTicks: [0, 20000, 40000, 60000], yTicks: [0, 10, 20, 30, 40, 50, 60, 70], xTitle: 'S1 IgG', yTitle: 'Lyphcytes (%)', titleX: 77, yGap: 14 });
scatterChart({ left: 152, right: 466, top: 956, bottom: 1277, rows: orfLdhRows, trend: orfLdhTrend, xTicks: [0, 1000, 2000, 3000, 4000], yTicks: [0, 200, 400, 600, 800, 1000, 1200, 1400, 1600, 1800, 2000], xTitle: 'ORF3b IgG', yTitle: 'Peak LDH', titleX: 42, yGap: 20 });
scatterChart({ left: 146, right: 466, top: 1446, bottom: 1721, rows: orfThrombinRows, trend: orfThrombinTrend, xTicks: [0, 1000, 2000, 3000, 4000], yTicks: [0, 20, 40, 60, 80, 100, 120, 140], xTitle: 'ORF3b IgG', yTitle: 'Thrombin activity', titleX: 63, yGap: 14 });

swarmChart({ left: 627, right: 847, top: 56, bottom: 387, centers: [689, 784], labelAt: [682, 786], groups: ['<15,000', '≥15,000'], yTicks: [0, 500, 1000, 1500, 2000], format: v => String(v), lowLevels: s1LdhLowLevels, lowCounts: s1LdhLowCounts, highLevels: s1LdhHighLevels, highCounts: s1LdhHighCounts, stats: s1LdhStats, meanHalf: 31, capHalf: 7, xGap: 12, yGap: 10, labelOffset: 2, dot: 1.55 });
swarmChart({ left: 630, right: 843, top: 495, bottom: 816, centers: [691, 783], labelAt: [681, 785], groups: ['<15,000', '≥15,000'], yTicks: [0, 20, 40, 60, 80], format: v => String(v), lowLevels: s1LymphLowLevels, lowCounts: s1LymphLowCounts, highLevels: s1LymphHighLevels, highCounts: s1LymphHighCounts, stats: s1LymphStats, meanHalf: 31, capHalf: 6, xGap: 5, yGap: 13, labelOffset: 0, dot: 1.35 });
swarmChart({ left: 635, right: 862, top: 943, bottom: 1295, centers: [702, 802], labelAt: [698, 803], groups: ['<500', '≥500'], yTicks: [0, 500, 1000, 1500, 2000], format: comma, lowLevels: orfLdhLowLevels, lowCounts: orfLdhLowCounts, highLevels: orfLdhHighLevels, highCounts: orfLdhHighCounts, stats: orfLdhStats, meanHalf: 33, capHalf: 7, xGap: 6, yGap: 9, labelOffset: 2, dot: 1.55 });
swarmChart({ left: 632, right: 862, top: 1398, bottom: 1744, centers: [699, 797], labelAt: [693, 798], groups: ['<500', '≥500'], yTicks: [0, 50, 100, 150], format: v => String(v), lowLevels: orfThrombinLowLevels, lowCounts: orfThrombinLowCounts, highLevels: orfThrombinHighLevels, highCounts: orfThrombinHighCounts, stats: orfThrombinStats, meanHalf: 33, capHalf: 8, xGap: 5, yGap: 7, labelOffset: 2, dot: 1.7 });
</script>
</body>
</html>
